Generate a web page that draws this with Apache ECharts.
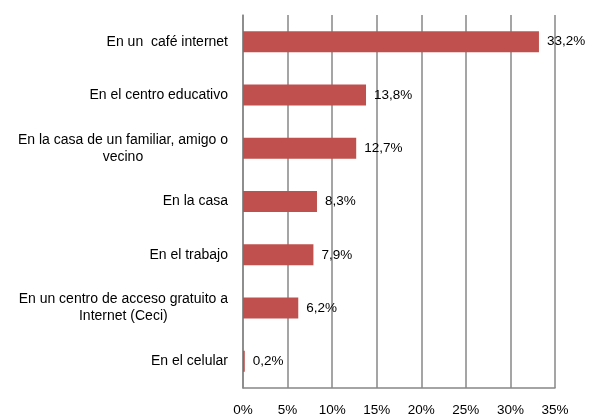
<!DOCTYPE html>
<html>
<head>
<meta charset="utf-8">
<script src="https://cdn.jsdelivr.net/npm/echarts@6/dist/echarts.min.js"></script>
<style>
  html, body { margin: 0; padding: 0; background: #fff; }
  #chart { width: 590px; height: 415px; }
</style>
</head>
<body>
<div id="chart"></div>
<script>
// categorías (de arriba hacia abajo)
const categories = [
  'En un  café internet',
  'En el centro educativo',
  'En la casa de un familiar, amigo o\nvecino',
  'En la casa',
  'En el trabajo',
  'En un centro de acceso gratuito a\nInternet (Ceci)',
  'En el celular'
]
// porcentajes
const values = [33.2, 13.8, 12.7, 8.3, 7.9, 6.2, 0.2]
const xTicks = [0, 5, 10, 15, 20, 25, 30, 35]

const chart = echarts.init(document.getElementById('chart'))

const fontFamily = 'Liberation Sans'

const option = {
  animation: false,
  grid: { left: 243, right: 35, top: 15, bottom: 27, outerBoundsMode: 'none' },
  xAxis: {
    type: 'value',
    min: xTicks[0],
    max: xTicks[xTicks.length - 1],
    interval: 5,
    axisLine: { show: true, lineStyle: { color: '#878787', width: 1.5 } },
    axisTick: { show: false },
    splitLine: { show: true, lineStyle: { color: '#878787', width: 1.5 } },
    axisLabel: {
      color: '#000',
      fontFamily: fontFamily,
      fontSize: 13.5,
      margin: 15,
      formatter: v => v + '%'
    }
  },
  yAxis: {
    type: 'category',
    inverse: true,
    data: categories,
    axisLine: { show: true, lineStyle: { color: '#878787', width: 1.5 } },
    axisTick: { show: false },
    axisLabel: {
      margin: 15,
      align: 'right',
      formatter: v => v.split('\n').map(l => '{c|' + l + '}').join('\n'),
      rich: {
        c: { align: 'center', color: '#000', fontFamily: fontFamily, fontSize: 14, lineHeight: 17 }
      }
    }
  },
  series: [{
    type: 'bar',
    data: values,
    barWidth: 21,
    itemStyle: { color: '#C0504D' },
    label: {
      show: true,
      position: 'right',
      distance: 8,
      color: '#000',
      fontFamily: fontFamily,
      fontSize: 13.5,
      formatter: p => p.value.toFixed(1).replace('.', ',') + '%'
    }
  }]
}

chart.setOption(option)
</script>
</body>
</html>
